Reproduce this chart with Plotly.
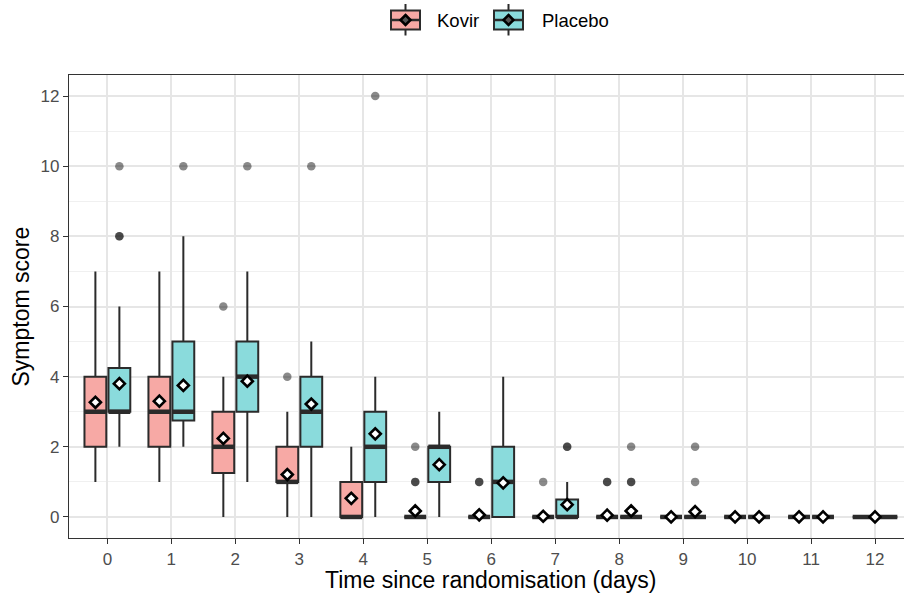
import plotly.graph_objects as go

# Symptom score by day since randomisation, summarised per treatment arm
days = list(range(13))

# Kovir arm (days 0-12)
kovir_lower = [1, 1, 0, 0, 0, 0, 0, 0, 0, 0, 0, 0, 0]
kovir_q1 = [2, 2, 1.25, 1, 0, 0, 0, 0, 0, 0, 0, 0, 0]
kovir_median = [3, 3, 2, 1, 0, 0, 0, 0, 0, 0, 0, 0, 0]
kovir_q3 = [4, 4, 3, 2, 1, 0, 0, 0, 0, 0, 0, 0, 0]
kovir_upper = [7, 7, 4, 3, 2, 0, 0, 0, 0, 0, 0, 0, 0]
kovir_mean = [3.27, 3.3, 2.24, 1.21, 0.53, 0.17, 0.06, 0.02, 0.05, 0.0, 0.0, 0.0, 0.0]
kovir_outliers = {2: [6], 3: [4], 5: [1, 1, 2], 6: [1, 1], 7: [1], 8: [1, 1]}

# Placebo arm (days 0-11)
placebo_lower = [2, 2, 1, 0, 0, 0, 0, 0, 0, 0, 0, 0]
placebo_q1 = [3, 2.75, 3, 2, 1, 1, 0, 0, 0, 0, 0, 0]
placebo_median = [3, 3, 4, 3, 2, 2, 1, 0, 0, 0, 0, 0]
placebo_q3 = [4.25, 5, 5, 4, 3, 2, 2, 0.5, 0, 0, 0, 0]
placebo_upper = [6, 8, 7, 5, 4, 3, 4, 1, 0, 0, 0, 0]
placebo_mean = [3.8, 3.75, 3.87, 3.22, 2.37, 1.49, 0.97, 0.35, 0.17, 0.15, 0.0, 0.0]
placebo_outliers = {0: [8, 8, 10], 1: [10], 2: [10], 3: [10], 4: [12], 7: [2, 2], 8: [1, 1, 2], 9: [1, 2]}

y_ticks = [0, 2, 4, 6, 8, 10, 12]

groups = [
    dict(name="Kovir", fill="#F7A9A5", lower=kovir_lower, q1=kovir_q1, median=kovir_median,
         q3=kovir_q3, upper=kovir_upper, mean=kovir_mean, outliers=kovir_outliers),
    dict(name="Placebo", fill="#8ADBDC", lower=placebo_lower, q1=placebo_q1, median=placebo_median,
         q3=placebo_q3, upper=placebo_upper, mean=placebo_mean, outliers=placebo_outliers),
]

LINE = "#2B2B2B"
DODGE = 0.75
GAP = 0.91  # fraction of the dodge slot filled by a box

W, H = 904, 598
ML, MR, MT, MB = 69, 0, 75, 60
PW, PH = W - ML - MR, H - MT - MB


def slots(day):
    """Position and width of each arm's box on a given day (dodged)."""
    present = [g for g in groups if day < len(g["median"])]
    n = len(present)
    slot = DODGE / n
    out = {}
    for i, g in enumerate(present):
        centre = day - DODGE / 2 + slot * (i + 0.5)
        out[g["name"]] = (centre, slot * GAP if n > 1 else DODGE * 0.93)
    return out


fig = go.Figure()

med_x, med_y = [], []
out_x, out_y = [], []
mean_x, mean_y = [], []

for g in groups:
    for d in range(len(g["median"])):
        pos, w = slots(d)[g["name"]]
        fig.add_trace(go.Box(
            x=[pos], q1=[g["q1"][d]], median=[g["median"][d]], q3=[g["q3"][d]],
            lowerfence=[g["lower"][d]], upperfence=[g["upper"][d]],
            width=w, whiskerwidth=0, fillcolor=g["fill"],
            line=dict(color=LINE, width=2), name=g["name"],
            showlegend=False, hoverinfo="skip",
        ))
        med_x += [pos - w / 2, pos + w / 2, None]
        med_y += [g["median"][d], g["median"][d], None]
        for v in g["outliers"].get(d, []):
            out_x.append(pos)
            out_y.append(v)
        mean_x.append(pos)
        mean_y.append(g["mean"][d])

# thicker median bars
fig.add_trace(go.Scatter(x=med_x, y=med_y, mode="lines", line=dict(color=LINE, width=4.5),
                         showlegend=False, hoverinfo="skip"))
# outlying observations
fig.add_trace(go.Scatter(x=out_x, y=out_y, mode="markers",
                         marker=dict(size=8.5, color="rgba(0,0,0,0.46)", line=dict(width=0)),
                         showlegend=False, hoverinfo="skip"))
# arm means
fig.add_trace(go.Scatter(x=mean_x, y=mean_y, mode="markers",
                         marker=dict(symbol="diamond", size=8.5, color="white",
                                     line=dict(color="black", width=2.6)),
                         showlegend=False, hoverinfo="skip"))


# legend keys (box + whisker + mean glyph) drawn in paper space from pixel offsets
def px(x):
    return (x - ML) / PW


def py(y):
    return (H - MB - y) / PH


shapes = []
annotations = []
key_left = [391, 494]
text_left = [435, 540]
KEY_W, KEY_TOP, KEY_BOT, KEY_MID = 29, 10.5, 29.5, 20
for g, kx, tx in zip(groups, key_left, text_left):
    cx = kx + KEY_W / 2
    shapes.append(dict(type="line", xref="paper", yref="paper", x0=px(cx), x1=px(cx),
                       y0=py(4), y1=py(35.5), line=dict(color=LINE, width=2)))
    shapes.append(dict(type="rect", xref="paper", yref="paper", x0=px(kx), x1=px(kx + KEY_W),
                       y0=py(KEY_BOT), y1=py(KEY_TOP), fillcolor=g["fill"],
                       line=dict(color=LINE, width=2)))
    shapes.append(dict(type="line", xref="paper", yref="paper", x0=px(kx), x1=px(kx + KEY_W),
                       y0=py(KEY_MID), y1=py(KEY_MID), line=dict(color=LINE, width=2.5)))
    r = 5
    path = (f"M {px(cx)},{py(KEY_MID - r)} L {px(cx + r)},{py(KEY_MID)} "
            f"L {px(cx)},{py(KEY_MID + r)} L {px(cx - r)},{py(KEY_MID)} Z")
    shapes.append(dict(type="path", xref="paper", yref="paper", path=path,
                       fillcolor="#555555", line=dict(color="black", width=2.5)))
    annotations.append(dict(text=g["name"], xref="paper", yref="paper", x=px(tx), y=py(KEY_MID),
                            xanchor="left", yanchor="middle", showarrow=False,
                            font=dict(size=18.5, color="black")))

annotations += [
    dict(text="Time since randomisation (days)", xref="x", x=6, yref="paper",
         y=-(579 - 537.5) / PH, xanchor="center", yanchor="middle", showarrow=False,
         font=dict(size=23, color="black")),
    dict(text="Symptom score", xref="paper", x=(20 - ML) / PW, yref="paper", y=0.5,
         xanchor="center", yanchor="middle", textangle=-90, showarrow=False,
         font=dict(size=23, color="black")),
]

FONT = "Liberation Sans, Arial, sans-serif"

fig.update_layout(
    width=W, height=H,
    margin=dict(l=ML, r=MR, t=MT, b=MB),
    plot_bgcolor="white", paper_bgcolor="white",
    boxmode="overlay",
    font=dict(family=FONT, color="black"),
    showlegend=False,
    xaxis=dict(
        range=[-0.6, -0.6 + PW / 63.97], tickmode="array", tickvals=days,
        ticktext=[str(d) for d in days], tickfont=dict(size=17, color="#4D4D4D"),
        ticks="outside", ticklen=5, tickcolor="#333333", tickwidth=1.2,
        showgrid=True, gridcolor="#E6E6E6", gridwidth=1.6, zeroline=False,
        showline=True, linecolor="#333333", linewidth=1.2, mirror=True,
    ),
    yaxis=dict(
        range=[-0.6, 12.6], tickmode="array", tickvals=y_ticks,
        tickfont=dict(size=17, color="#4D4D4D"),
        ticks="outside", ticklen=5, tickcolor="#333333", tickwidth=1.2,
        showgrid=True, gridcolor="#E6E6E6", gridwidth=1.6, zeroline=False,
        minor=dict(dtick=1, tick0=1, showgrid=True, gridcolor="#F0F0F0", gridwidth=1, ticks=""),
        showline=True, linecolor="#333333", linewidth=1.2, mirror=False,
    ),
    shapes=shapes,
    annotations=annotations,
)

fig.write_html("out.html")
